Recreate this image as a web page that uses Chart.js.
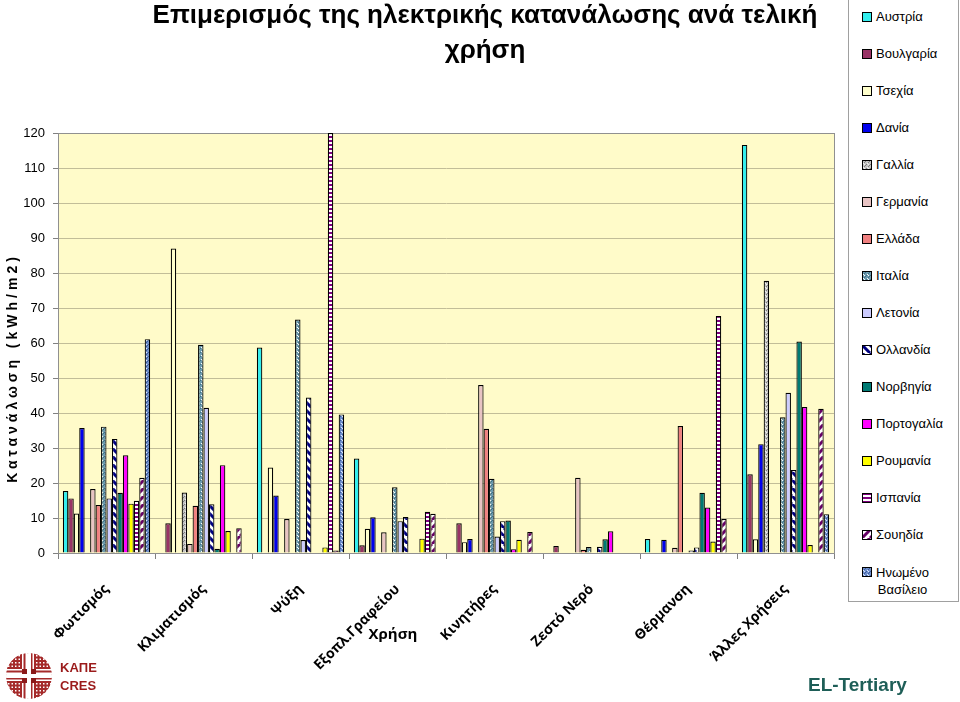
<!DOCTYPE html>
<html>
<head>
<meta charset="utf-8">
<script src="https://cdn.jsdelivr.net/npm/chart.js@4.4.1/dist/chart.umd.min.js"></script>
<style>
body { margin:0; background:#fff; }
#wrap { position:relative; width:960px; height:702px; overflow:hidden; font-family:'Liberation Sans', Arial, sans-serif; }
#chart { position:absolute; left:0; top:0; }
.title { position:absolute; left:0; top:-3px; width:970px; text-align:center; font-weight:bold; font-size:26px; line-height:35px; color:#000; }
.ytitle { position:absolute; left:-138px; top:358px; width:300px; height:20px; line-height:20px; text-align:center;
  font-weight:bold; font-size:14px; letter-spacing:4px; transform:rotate(-90deg); }
.xtitle { position:absolute; left:343px; top:622px; width:100px; line-height:22px; text-align:center;
  font-family:'Open Sans', sans-serif; font-weight:bold; font-size:15px; }
#legend { position:absolute; left:848px; top:-1px; width:109px; height:601px; border:1px solid #a0a0a0; background:#fff; }
.li { position:absolute; left:13px; font-size:13px; line-height:16px; white-space:nowrap; }
.li canvas { position:absolute; left:0; top:3px; }
.li span { position:absolute; left:14px; top:0; }
.kape { position:absolute; left:60px; color:#9b1b1b; font-weight:bold; font-size:13px; line-height:16px; }
.elt { position:absolute; left:808px; top:673px; line-height:24px; font-weight:bold; font-size:19px; color:#1e5e57; }
</style>
</head>
<body>
<div id="wrap">
  <canvas id="chart" width="960" height="702"></canvas>
  <div class="title">Επιμερισμός της ηλεκτρικής κατανάλωσης ανά τελική<br>χρήση</div>
  <div class="ytitle">Κατανάλωση (kWh/m2)</div>
  <div class="xtitle">Χρήση</div>
  <div id="legend"></div>
  <canvas id="logo" width="48" height="48" style="position:absolute;left:5px;top:652px;"></canvas>
  <div class="kape" style="top:660px;">ΚΑΠΕ</div>
  <div class="kape" style="top:678px;">CRES</div>
  <div class="elt">EL-Tertiary</div>
</div>
<script>
// categories and countries
var categories = ['Φωτισμός', 'Κλιματισμός', 'Ψύξη', 'Εξοπλ.Γραφείου', 'Κινητήρες', 'Ζεστό Νερό', 'Θέρμανση', 'Άλλες Χρήσεις'];
var countries = ['Αυστρία', 'Βουλγαρία', 'Τσεχία', 'Δανία', 'Γαλλία', 'Γερμανία', 'Ελλάδα', 'Ιταλία',
  'Λετονία', 'Ολλανδία', 'Νορβηγία', 'Πορτογαλία', 'Ρουμανία', 'Ισπανία', 'Σουηδία', 'Ηνωμένο Βασίλειο'];

// kWh/m2 per end use (null = no bar)
var austria  = [17.7, null, 58.7, 27.0, null, null, 4.0, 116.6];
var bulgaria = [15.6, 8.5, null, 2.2, 8.5, 2.0, null, 22.5];
var czech    = [11.3, 87.0, 24.4, 6.9, 3.1, null, null, 3.9];
var denmark  = [35.7, null, 16.4, 10.2, 4.0, null, 3.8, 31.1];
var france   = [null, 17.3, null, null, null, null, null, 77.8];
var germany  = [18.3, 2.6, 9.7, 5.9, 48.0, 21.5, 1.5, null];
var greece   = [13.7, 13.5, null, null, 35.5, 0.9, 36.3, null];
var italy    = [36.1, 59.5, 66.7, 18.8, 21.2, 1.7, null, 38.8];
var latvia   = [15.6, 41.5, 3.7, 9.1, 4.7, null, 0.7, 45.8];
var holland  = [32.6, 13.9, 44.4, 10.3, 9.1, 1.8, 1.6, 23.7];
var norway   = [17.2, 1.2, null, null, 9.3, 3.9, 17.2, 60.4];
var portugal = [27.9, 25.1, null, null, 1.1, 6.2, 13.0, 41.7];
var romania  = [14.1, 6.3, 1.6, 4.1, 3.8, null, 3.3, 2.3];
var spain    = [14.9, null, 120, 11.8, null, null, 67.7, null];
var sweden   = [21.5, 7.1, 0.7, 11.2, 6.0, null, 9.7, 41.2];
var uk       = [61.1, null, 39.6, null, null, null, null, 11.1];

var series = [austria, bulgaria, czech, denmark, france, germany, greece, italy,
  latvia, holland, norway, portugal, romania, spain, sweden, uk];

var yMin = 0, yMax = 120, yStep = 10;

// fills (plain colours and small tiled patterns)
function pat(w, h, fn) {
  var c = document.createElement('canvas');
  c.width = w; c.height = h;
  var g = c.getContext('2d');
  fn(g, w, h);
  return g.createPattern(c, 'repeat');
}
function dots(base, dark, light) {
  return pat(4, 4, function (g) {
    g.fillStyle = base; g.fillRect(0, 0, 4, 4);
    g.fillStyle = dark; g.fillRect(0, 0, 1, 1); g.fillRect(2, 2, 1, 1); g.fillRect(3, 1, 1, 1);
    g.fillStyle = light; g.fillRect(1, 3, 1, 1); g.fillRect(2, 0, 1, 1);
  });
}
function stripes(color, up) {
  return pat(8, 8, function (g) {
    g.fillStyle = '#fff'; g.fillRect(0, 0, 8, 8);
    g.strokeStyle = color; g.lineWidth = 3;
    g.beginPath();
    for (var k = -8; k <= 8; k += 8) {
      if (up) { g.moveTo(k, 8); g.lineTo(k + 8, 0); }
      else { g.moveTo(k, 0); g.lineTo(k + 8, 8); }
    }
    g.stroke();
  });
}
var hstripes = pat(1, 4, function (g) {
  g.fillStyle = '#800080'; g.fillRect(0, 0, 1, 2);
  g.fillStyle = '#fff'; g.fillRect(0, 2, 1, 2);
});

var fills = [
  '#33EEEE', '#993366', '#FFFFCC', '#0000EE',
  dots('#C4C4C4', '#7c7c7c', '#f2f2f2'),
  '#E8C4C4', '#F08080',
  dots('#6E9CB0', '#3f6f84', '#ffffff'),
  '#CCCCFF', stripes('#000080', false), '#007A73', '#FF00FF', '#FFFF00',
  hstripes, stripes('#660066', true),
  dots('#6F8FCB', '#3b5a9c', '#dfe8ff')
];

var datasets = countries.map(function (name, i) {
  return {
    label: name,
    data: series[i],
    backgroundColor: fills[i],
    borderColor: '#000',
    borderWidth: 1.2
  };
});

var plotBg = {
  id: 'plotBg',
  beforeDraw: function (chart) {
    var a = chart.chartArea, c = chart.ctx;
    c.save();
    c.fillStyle = '#FFFBC9';
    c.fillRect(a.left, a.top, a.right - a.left, a.bottom - a.top);
    c.restore();
  },
  beforeDatasetsDraw: function (chart) {
    var a = chart.chartArea, c = chart.ctx;
    c.save();
    c.strokeStyle = '#909090';
    c.lineWidth = 1;
    c.strokeRect(a.left + 0.5, a.top + 0.5, a.right - a.left, a.bottom - a.top);
    c.restore();
  }
};

var ctx = document.getElementById('chart').getContext('2d');
var chart = new Chart(ctx, {
  type: 'bar',
  data: { labels: categories, datasets: datasets },
  options: {
    responsive: false,
    animation: false,
    layout: { padding: { top: 133, right: 126, left: 0, bottom: 0 } },
    datasets: { bar: { categoryPercentage: 0.9, barPercentage: 1.0 } },
    plugins: { legend: { display: false }, tooltip: { enabled: false }, title: { display: false } },
    scales: {
      x: {
        grid: { drawOnChartArea: false, offset: true, tickLength: 6, color: '#808080' },
        border: { color: '#808080' },
        ticks: {
          minRotation: 45, maxRotation: 45, autoSkip: false, padding: 22, color: '#000',
          font: { family: "'Open Sans', sans-serif", size: 14, weight: 'bold' }
        },
        afterFit: function (s) { s.height = 149; }
      },
      y: {
        min: yMin, max: yMax,
        ticks: { stepSize: yStep, padding: 8, color: '#000', font: { family: "'Liberation Sans', Arial", size: 13 } },
        grid: { color: '#C2BD98', tickColor: '#808080', tickLength: 5 },
        border: { color: '#808080' },
        afterFit: function (s) { s.width = 58; }
      }
    }
  },
  plugins: [plotBg]
});

// legend
var legend = document.getElementById('legend');
countries.forEach(function (name, i) {
  var item = document.createElement('div');
  item.className = 'li';
  item.style.top = (37 * i + 9) + 'px';
  var sw = document.createElement('canvas');
  sw.width = 10; sw.height = 10;
  var g = sw.getContext('2d');
  g.fillStyle = fills[i];
  g.fillRect(0, 0, 10, 10);
  g.strokeStyle = '#000';
  g.strokeRect(0.5, 0.5, 9, 9);
  item.appendChild(sw);
  var t = document.createElement('span');
  var parts = name.split(' ');
  if (parts.length > 1) {
    t.innerHTML = parts.join('<br>');
    t.style.textAlign = 'center';
    t.style.lineHeight = '17px';
  } else {
    t.textContent = name;
  }
  item.appendChild(t);
  legend.appendChild(item);
});

// ΚΑΠΕ emblem
var lg = document.getElementById('logo').getContext('2d');
lg.save();
lg.beginPath(); lg.arc(24, 24, 23, 0, Math.PI * 2); lg.clip();
lg.fillStyle = '#fff'; lg.fillRect(0, 0, 48, 48);
lg.fillStyle = '#a52a2a';
for (var y = 1; y < 48; y += 3.5) { lg.fillRect(0, y, 17, 2); lg.fillRect(31, y, 17, 2); }
for (var x = 1; x < 48; x += 3.5) { lg.fillRect(x, 0, 2, 17); lg.fillRect(x, 31, 2, 17); }
lg.fillStyle = '#8b1a1a';
lg.fillRect(17, 17, 14, 14);
lg.fillStyle = '#fff';
lg.fillRect(0, 22, 48, 4);
lg.fillRect(22, 0, 4, 48);
lg.restore();
</script>
</body>
</html>
